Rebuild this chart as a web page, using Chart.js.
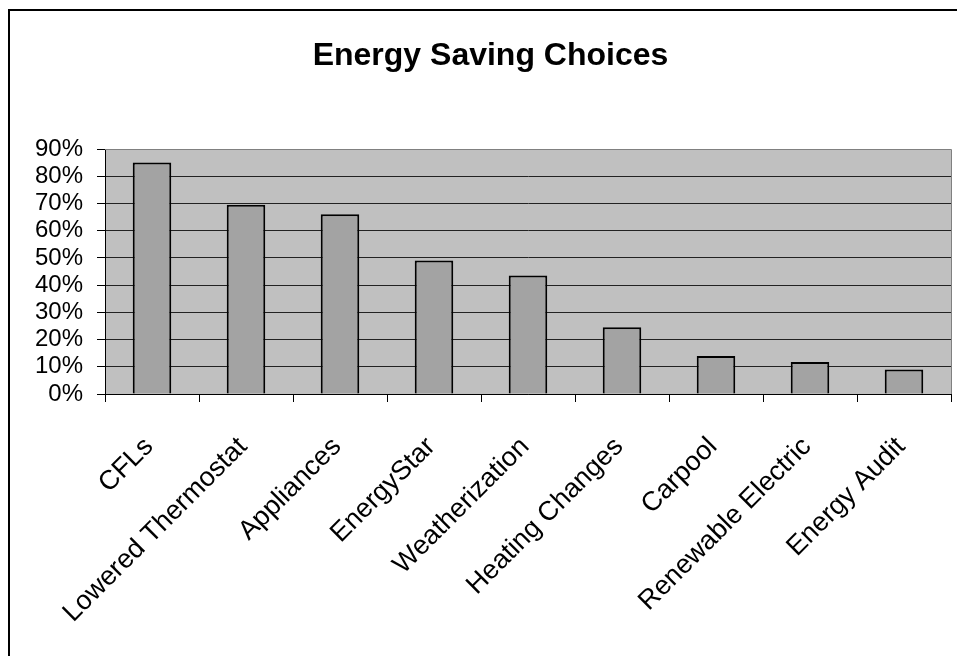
<!DOCTYPE html>
<html>
<head>
<meta charset="utf-8">
<script src="https://cdn.jsdelivr.net/npm/chart.js@4"></script>
<style>
  body { margin: 0; background: #fff; }
  #wrap { width: 957px; height: 656px; }
</style>
</head>
<body>
<div id="wrap"><canvas id="energyChart" width="957" height="656"></canvas></div>
<script>
// dados
const categories = ['CFLs', 'Lowered Thermostat', 'Appliances', 'EnergyStar', 'Weatherization',
    'Heating Changes', 'Carpool', 'Renewable Electric', 'Energy Audit'];
const shares = [0.85, 0.695, 0.66, 0.49, 0.435, 0.245, 0.14, 0.118, 0.09];
const yTicks = [0, 0.1, 0.2, 0.3, 0.4, 0.5, 0.6, 0.7, 0.8, 0.9];
const chartTitle = 'Energy Saving Choices';

// fundo cinza da área do gráfico + moldura externa
const framePlugin = {
    id: 'frame',
    beforeDraw(chart) {
        const { ctx, chartArea } = chart;
        ctx.save();
        ctx.fillStyle = '#c0c0c0';
        ctx.fillRect(chartArea.left, chartArea.top, chartArea.right - chartArea.left, chartArea.bottom - chartArea.top);
        ctx.restore();
    },
    afterDraw(chart) {
        const { ctx, chartArea } = chart;
        ctx.save();
        ctx.strokeStyle = '#808080';
        ctx.lineWidth = 1;
        ctx.beginPath();
        ctx.moveTo(chartArea.left, chartArea.top + 0.5);
        ctx.lineTo(chartArea.right + 0.5, chartArea.top + 0.5);
        ctx.lineTo(chartArea.right + 0.5, chartArea.bottom);
        ctx.stroke();
        ctx.strokeStyle = '#000';
        ctx.lineWidth = 2;
        ctx.strokeRect(9, 10, 1000, 1000);
        ctx.restore();
    }
};

const ctx = document.getElementById('energyChart').getContext('2d');
new Chart(ctx, {
    type: 'bar',
    data: {
        labels: categories,
        datasets: [{
            label: 'Share',
            data: shares,
            backgroundColor: '#a3a3a3',
            borderColor: '#000',
            borderWidth: 2,
            barPercentage: 0.41,
            categoryPercentage: 1
        }]
    },
    options: {
        responsive: false,
        animation: false,
        layout: { padding: { left: 30, right: 6, top: 0, bottom: 0 } },
        plugins: {
            legend: { display: false },
            tooltip: { enabled: false },
            title: {
                display: true,
                text: chartTitle,
                color: '#000',
                font: { family: 'Liberation Sans, Arial, sans-serif', size: 32, weight: 'bold', lineHeight: 1.2 },
                padding: { top: 37, bottom: 73.6 }
            }
        },
        scales: {
            x: {
                border: { display: true, color: '#000', width: 1 },
                grid: {
                    drawOnChartArea: false,
                    drawTicks: true,
                    tickLength: 8,
                    tickColor: '#000'
                },
                ticks: {
                    color: '#000',
                    font: { family: 'Liberation Sans, Arial, sans-serif', size: 27 },
                    minRotation: 45,
                    maxRotation: 45,
                    autoSkip: false,
                    padding: 29,
                    labelOffset: -3
                },
                afterFit(scale) { scale.height = 262; }
            },
            y: {
                min: 0,
                max: 0.9,
                afterBuildTicks(scale) { scale.ticks = yTicks.map(v => ({ value: v })); },
                border: { display: true, color: '#000', width: 1 },
                grid: {
                    color: c => (c.tick && c.tick.value >= 0.9 ? '#808080' : '#222'),
                    tickColor: '#000',
                    tickLength: 8
                },
                ticks: {
                    color: '#000',
                    font: { family: 'Liberation Sans, Arial, sans-serif', size: 24 },
                    padding: 14,
                    autoSkip: false,
                    callback: v => Math.round(v * 100) + '%'
                },
                afterFit(scale) { scale.width = 75; }
            }
        }
    },
    plugins: [framePlugin]
});
</script>
</body>
</html>
